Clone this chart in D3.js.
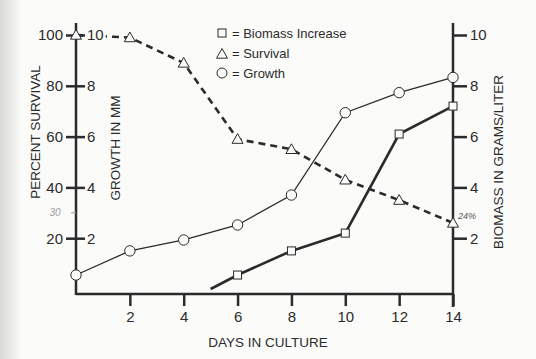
<!DOCTYPE html>
<html><head><meta charset="utf-8">
<script src="https://cdn.jsdelivr.net/npm/d3@7/dist/d3.min.js"></script>
<style>
html,body{margin:0;padding:0;background:#fbfbfa;}
svg{display:block;font-family:"Liberation Sans",Arial,sans-serif;}
</style></head>
<body>
<svg id="chart" width="536" height="359"></svg>
<script>
// ---- data ----
const days = [0, 2, 4, 6, 8, 10, 12, 14];
const survival = [100, 99, 89, 59, 55, 43, 35, 26];           // percent
const growth = [0.55, 1.5, 1.93, 2.52, 3.7, 6.94, 7.73, 8.33];  // mm
const biomassDays = [5, 6, 8, 10, 12, 14];
const biomass = [0, 0.55, 1.5, 2.2, 6.1, 7.2];                  // g/L
const biomassMarked = [false, true, true, true, true, true];
const xTicks = [2, 4, 6, 8, 10, 12, 14];
const survivalTicks = [20, 40, 60, 80, 100];
const growthTicks = [2, 4, 6, 8, 10];
const biomassTicks = [2, 4, 6, 8, 10];
const legendItems = ["Biomass Increase", "Survival", "Growth"];

const ink = "#2b2b2b";
const bg = "#fbfbfa";
const FF = "Liberation Sans, Arial, sans-serif";
const svg = d3.select("#chart");

// subtle scan shading at left edge
const grad = svg.append("defs").append("linearGradient").attr("id","edge");
grad.append("stop").attr("offset","0%").attr("stop-color","#d8d8d6");
grad.append("stop").attr("offset","100%").attr("stop-color",bg);
svg.append("rect").attr("x",0).attr("y",0).attr("width",22).attr("height",359).attr("fill","url(#edge)");

const x = d3.scaleLinear().domain([0, 14]).range([76, 453]);
const ySurv = d3.scaleLinear().domain([0, 100]).range([289, 35]);
const yGrow = d3.scaleLinear().domain([0, 10]).range([289, 35]);
const yBio = d3.scaleLinear().domain([0, 10]).range([289, 35]);

const x0 = x(0), xR = x(14), yBase = 294;

function styleAxis(g) {
  g.select(".domain").remove();
  g.selectAll("line").attr("stroke", ink).attr("stroke-width", 2.5);
  g.selectAll("text").attr("font-size", 15).attr("fill", ink).attr("font-family", FF);
}

// bottom axis
svg.append("line").attr("x1", x0).attr("x2", xR).attr("y1", yBase).attr("y2", yBase)
  .attr("stroke", ink).attr("stroke-width", 2.5);
svg.append("g").attr("transform", `translate(0,${yBase})`)
  .call(d3.axisBottom(x).tickValues(xTicks).tickSize(12).tickPadding(5)).call(styleAxis);

// left axis line
svg.append("line").attr("x1", x0).attr("x2", x0).attr("y1", 23).attr("y2", yBase + 1)
  .attr("stroke", ink).attr("stroke-width", 2.5);
// right axis line
svg.append("line").attr("x1", xR).attr("x2", xR).attr("y1", 23).attr("y2", 307)
  .attr("stroke", ink).attr("stroke-width", 2.5);

// survival axis (left of line)
svg.append("g").attr("transform", `translate(${x0},0)`)
  .call(d3.axisLeft(ySurv).tickValues(survivalTicks).tickSize(10).tickPadding(3)).call(styleAxis);

// biomass axis (right)
svg.append("g").attr("transform", `translate(${xR},0)`)
  .call(d3.axisRight(yBio).tickValues(biomassTicks).tickSize(14).tickPadding(3)).call(styleAxis);

// axis titles
svg.append("text").attr("transform", "translate(40,132) rotate(-90)").attr("text-anchor","middle")
  .attr("font-size", 13.5).attr("fill", ink).text("PERCENT SURVIVAL");
svg.append("text").attr("transform", "translate(120,148) rotate(-90)").attr("text-anchor","middle")
  .attr("font-size", 13.5).attr("fill", ink).text("GROWTH IN MM");
svg.append("text").attr("transform", "translate(503,162) rotate(-90)").attr("text-anchor","middle")
  .attr("font-size", 13.5).attr("fill", ink).text("BIOMASS IN GRAMS/LITER");
svg.append("text").attr("x", 268).attr("y", 347).attr("text-anchor","middle")
  .attr("font-size", 13.5).attr("fill", ink).text("DAYS IN CULTURE");

// handwritten notes
svg.append("text").attr("x", 55).attr("y", 216).attr("text-anchor","middle")
  .attr("font-size", 10).attr("font-style","italic").attr("fill", "#9a9a9a").text("30");
svg.append("line").attr("x1", 71).attr("x2", x0).attr("y1", ySurv(30)).attr("y2", ySurv(30))
  .attr("stroke", "#9a9a9a").attr("stroke-width", 1);

// survival line (dashed)
const survData = days.map((d, i) => ({d, v: survival[i]}));
svg.append("path").datum(survData)
  .attr("d", d3.line().x(p => x(p.d)).y(p => ySurv(p.v)))
  .attr("fill", "none").attr("stroke", ink).attr("stroke-width", 2.6).attr("stroke-dasharray", "7,5");

// growth line
const growData = days.map((d, i) => ({d, v: growth[i]}));
svg.append("path").datum(growData)
  .attr("d", d3.line().x(p => x(p.d)).y(p => yGrow(p.v)))
  .attr("fill", "none").attr("stroke", ink).attr("stroke-width", 1.3);

// biomass line
const bioData = biomassDays.map((d, i) => ({d, v: biomass[i], m: biomassMarked[i]}));
svg.append("path").datum(bioData)
  .attr("d", d3.line().x(p => x(p.d)).y(p => yBio(p.v)))
  .attr("fill", "none").attr("stroke", ink).attr("stroke-width", 2.6);

// growth axis (right side of left line) drawn above lines, labels with backing
const ga = svg.append("g").attr("transform", `translate(${x0},0)`)
  .call(d3.axisRight(yGrow).tickValues(growthTicks).tickSize(9).tickPadding(2)).call(styleAxis);
ga.selectAll(".tick").each(function(){
  const g = d3.select(this);
  const t = g.select("text").node().getBBox();
  g.insert("rect", "text").attr("x", t.x - 1).attr("y", t.y + 2).attr("width", t.width + 3).attr("height", t.height - 4)
    .attr("fill", bg);
});

// markers
const triPath = (cx, cy, s) => `M${cx},${cy - s * 0.55}L${cx + s * 0.55},${cy + s * 0.42}L${cx - s * 0.55},${cy + s * 0.42}Z`;
svg.append("g").selectAll("path").data(survData).join("path")
  .attr("d", p => triPath(x(p.d), ySurv(p.v), 10))
  .attr("fill", bg).attr("stroke", ink).attr("stroke-width", 1);
svg.append("g").selectAll("circle").data(growData).join("circle")
  .attr("cx", p => x(p.d)).attr("cy", p => yGrow(p.v)).attr("r", 5.2)
  .attr("fill", bg).attr("stroke", ink).attr("stroke-width", 1);
svg.append("g").selectAll("rect").data(bioData.filter(p => p.m)).join("rect")
  .attr("x", p => x(p.d) - 4).attr("y", p => yBio(p.v) - 4).attr("width", 8).attr("height", 8)
  .attr("fill", bg).attr("stroke", ink).attr("stroke-width", 1);

svg.append("text").attr("x", 458).attr("y", 219)
  .attr("font-size", 9).attr("font-style","italic").attr("fill", "#555").text("24%");

// legend
const leg = svg.append("g");
legendItems.forEach((name, i) => {
  const cy = 33 + i * 20;
  const cx = 222;
  if (i === 0) leg.append("rect").attr("x", cx - 4).attr("y", cy - 4).attr("width", 8).attr("height", 8)
    .attr("fill", "none").attr("stroke", ink).attr("stroke-width", 1);
  if (i === 1) leg.append("path").attr("d", triPath(cx, cy + 1, 10)).attr("fill", "none").attr("stroke", ink).attr("stroke-width", 1);
  if (i === 2) leg.append("circle").attr("cx", cx).attr("cy", cy).attr("r", 5).attr("fill", "none").attr("stroke", ink).attr("stroke-width", 1);
  leg.append("text").attr("x", 232).attr("y", cy + 4.5).attr("font-size", 13).attr("fill", ink).text("= " + name);
});
</script>
</body></html>
